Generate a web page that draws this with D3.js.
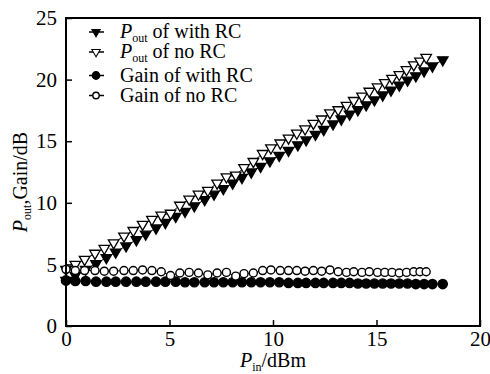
<!DOCTYPE html>
<html>
<head>
<meta charset="utf-8">
<script src="https://cdn.jsdelivr.net/npm/d3@7"></script>
</head>
<body style="margin:0">
<script>
// Pin (dBm) for the "with RC" runs
var pinWith = [0, 0.45, 0.95, 1.45, 1.95, 2.4, 2.9, 3.4, 3.85, 4.35, 4.8, 5.3, 5.75, 6.2, 6.7, 7.15,
  7.6, 8.05, 8.5, 8.95, 9.4, 9.85, 10.3, 10.75, 11.2, 11.6, 12.05, 12.45, 12.9, 13.3, 13.7, 14.1,
  14.5, 14.9, 15.3, 15.7, 16.1, 16.5, 16.9, 17.3, 17.7, 18.2];
var poutWith = [3.7, 4.1, 4.6, 5.05, 5.55, 6.0, 6.5, 7.0, 7.45, 7.95, 8.4, 8.9, 9.3, 9.75, 10.25, 10.7,
  11.15, 11.6, 12.05, 12.5, 12.95, 13.4, 13.85, 14.25, 14.7, 15.1, 15.55, 15.95, 16.4, 16.8, 17.2, 17.55,
  17.95, 18.35, 18.75, 19.15, 19.55, 19.95, 20.3, 20.7, 21.1, 21.6];
var gainWith = [3.7, 3.65, 3.65, 3.6, 3.6, 3.6, 3.6, 3.6, 3.6, 3.6, 3.6, 3.6, 3.55, 3.55, 3.55, 3.55,
  3.55, 3.55, 3.55, 3.55, 3.55, 3.55, 3.55, 3.5, 3.5, 3.5, 3.5, 3.5, 3.5, 3.5, 3.5, 3.45,
  3.45, 3.45, 3.45, 3.45, 3.45, 3.45, 3.4, 3.4, 3.4, 3.4];

// Pin (dBm) for the "no RC" runs
var pinNo = [0, 0.45, 0.9, 1.4, 1.85, 2.3, 2.8, 3.25, 3.7, 4.15, 4.6, 5.05, 5.5, 5.95, 6.4, 6.85,
  7.3, 7.75, 8.2, 8.6, 9.05, 9.5, 9.9, 10.35, 10.75, 11.15, 11.55, 11.95, 12.35, 12.75, 13.15, 13.55,
  13.9, 14.3, 14.65, 15.05, 15.4, 15.75, 16.1, 16.45, 16.8, 17.1, 17.4];
var poutNo = [4.6, 5.0, 5.4, 5.9, 6.3, 6.75, 7.3, 7.75, 8.25, 8.65, 9.0, 9.15, 9.8, 10.3, 10.7, 11.0,
  11.6, 12.1, 12.25, 12.85, 13.35, 14.0, 14.45, 14.85, 15.25, 15.65, 16.0, 16.45, 16.8, 17.3, 17.55, 17.9,
  18.3, 18.65, 19.05, 19.4, 19.75, 20.1, 20.4, 20.8, 21.2, 21.5, 21.8];
var gainNo = [4.6, 4.5, 4.5, 4.5, 4.45, 4.45, 4.5, 4.5, 4.55, 4.5, 4.4, 4.1, 4.3, 4.35, 4.3, 4.15,
  4.3, 4.35, 4.05, 4.25, 4.3, 4.5, 4.55, 4.5, 4.5, 4.5, 4.45, 4.5, 4.45, 4.55, 4.4, 4.35,
  4.4, 4.35, 4.4, 4.35, 4.35, 4.35, 4.3, 4.35, 4.4, 4.4, 4.4];

var xTicks = [0, 5, 10, 15, 20];
var yTicks = [0, 5, 10, 15, 20, 25];

var series = [
  { name: "of with RC", sub: true, marker: "triDown", fill: "#000", xs: pinWith, ys: poutWith },
  { name: "of no RC", sub: true, marker: "triDown", fill: "#fff", xs: pinNo, ys: poutNo },
  { name: "Gain of with RC", sub: false, marker: "circle", fill: "#000", xs: pinWith, ys: gainWith },
  { name: "Gain of no RC", sub: false, marker: "circle", fill: "#fff", xs: pinNo, ys: gainNo }
];

var W = 490, H = 374;
var margin = { left: 66, right: 10, top: 18, bottom: 48 };
var svg = d3.select("body").append("svg").attr("width", W).attr("height", H)
  .style("font-family", "'Liberation Serif', 'Times New Roman', serif");

var x = d3.scaleLinear().domain([0, 20]).range([margin.left, W - margin.right]);
var y = d3.scaleLinear().domain([0, 25]).range([H - margin.bottom, margin.top]);

var triPath = d3.symbol().type(d3.symbolTriangle).size(48);

function drawMarker(g, s, small) {
  var k = small ? 0.8 : 1;
  if (s.marker == "triDown") {
    g.append("path").attr("d", triPath).attr("transform", "rotate(180) scale(" + k + ")")
      .attr("fill", s.fill).attr("stroke", "#000").attr("stroke-width", 1.3);
  } else {
    g.append("circle").attr("r", (s.fill == "#000" ? 4.6 : 4) * k)
      .attr("fill", s.fill).attr("stroke", "#000").attr("stroke-width", 1.4);
  }
}

// series
var line = d3.line().x(function (d) { return x(d[0]); }).y(function (d) { return y(d[1]); });
series.forEach(function (s) {
  var pts = s.xs.map(function (v, i) { return [v, s.ys[i]]; });
  svg.append("path").datum(pts).attr("d", line)
    .attr("fill", "none").attr("stroke", "#000").attr("stroke-width", 1);
  svg.append("g").selectAll("g").data(pts).enter().append("g")
    .attr("transform", function (d) { return "translate(" + x(d[0]) + "," + y(d[1]) + ")"; })
    .each(function () { drawMarker(d3.select(this), s); });
});

// axes (inward ticks)
function styleAxis(g) {
  g.attr("font-family", null);
  g.select(".domain").remove();
  g.selectAll("line").attr("stroke-width", 1.5);
  g.selectAll("text").attr("font-size", 21).attr("fill", "#000");
}
svg.append("g").attr("transform", "translate(0," + y(0) + ")")
  .call(d3.axisBottom(x).tickValues(xTicks).tickSizeInner(-6).tickSizeOuter(0).tickPadding(5))
  .call(styleAxis);
svg.append("g").attr("transform", "translate(" + x(0) + ",0)")
  .call(d3.axisLeft(y).tickValues(yTicks).tickSizeInner(-6).tickSizeOuter(0).tickPadding(9))
  .call(styleAxis);

// frame
svg.append("rect").attr("x", x(0)).attr("y", y(25))
  .attr("width", x(20) - x(0)).attr("height", y(0) - y(25))
  .attr("fill", "none").attr("stroke", "#000").attr("stroke-width", 2);

// legend
var legendY = [32, 52, 75.5, 95.5];
var leg = svg.append("g");
series.forEach(function (s, i) {
  var row = leg.append("g").attr("transform", "translate(0," + legendY[i] + ")");
  row.append("line").attr("x1", 89).attr("x2", 104).attr("stroke", "#000").attr("stroke-width", 1.5);
  var m = row.append("g").attr("transform", "translate(96,0)");
  drawMarker(m, s, true);
  var t = row.append("text").attr("x", 120).attr("y", 6).attr("font-size", 20);
  if (s.sub) {
    t.append("tspan").attr("font-style", "italic").text("P");
    t.append("tspan").attr("font-size", 12).attr("dy", 4).text("out");
    t.append("tspan").attr("dy", -4).text(" " + s.name);
  } else {
    t.text(s.name);
  }
});

// axis titles
var xt = svg.append("text").attr("x", (x(0) + x(20)) / 2).attr("y", 367)
  .attr("text-anchor", "middle").attr("font-size", 20);
xt.append("tspan").attr("font-style", "italic").text("P");
xt.append("tspan").attr("font-size", 12).attr("dy", 4).text("in");
xt.append("tspan").attr("dy", -4).text("/dBm");

var yt = svg.append("text").attr("transform", "translate(27," + (y(12.5) + 10) + ") rotate(-90)")
  .attr("text-anchor", "middle").attr("font-size", 20);
yt.append("tspan").attr("font-style", "italic").text("P");
yt.append("tspan").attr("font-size", 12).attr("dy", 4).text("out");
yt.append("tspan").attr("dy", -4).text(",Gain/dB");
</script>
</body>
</html>
